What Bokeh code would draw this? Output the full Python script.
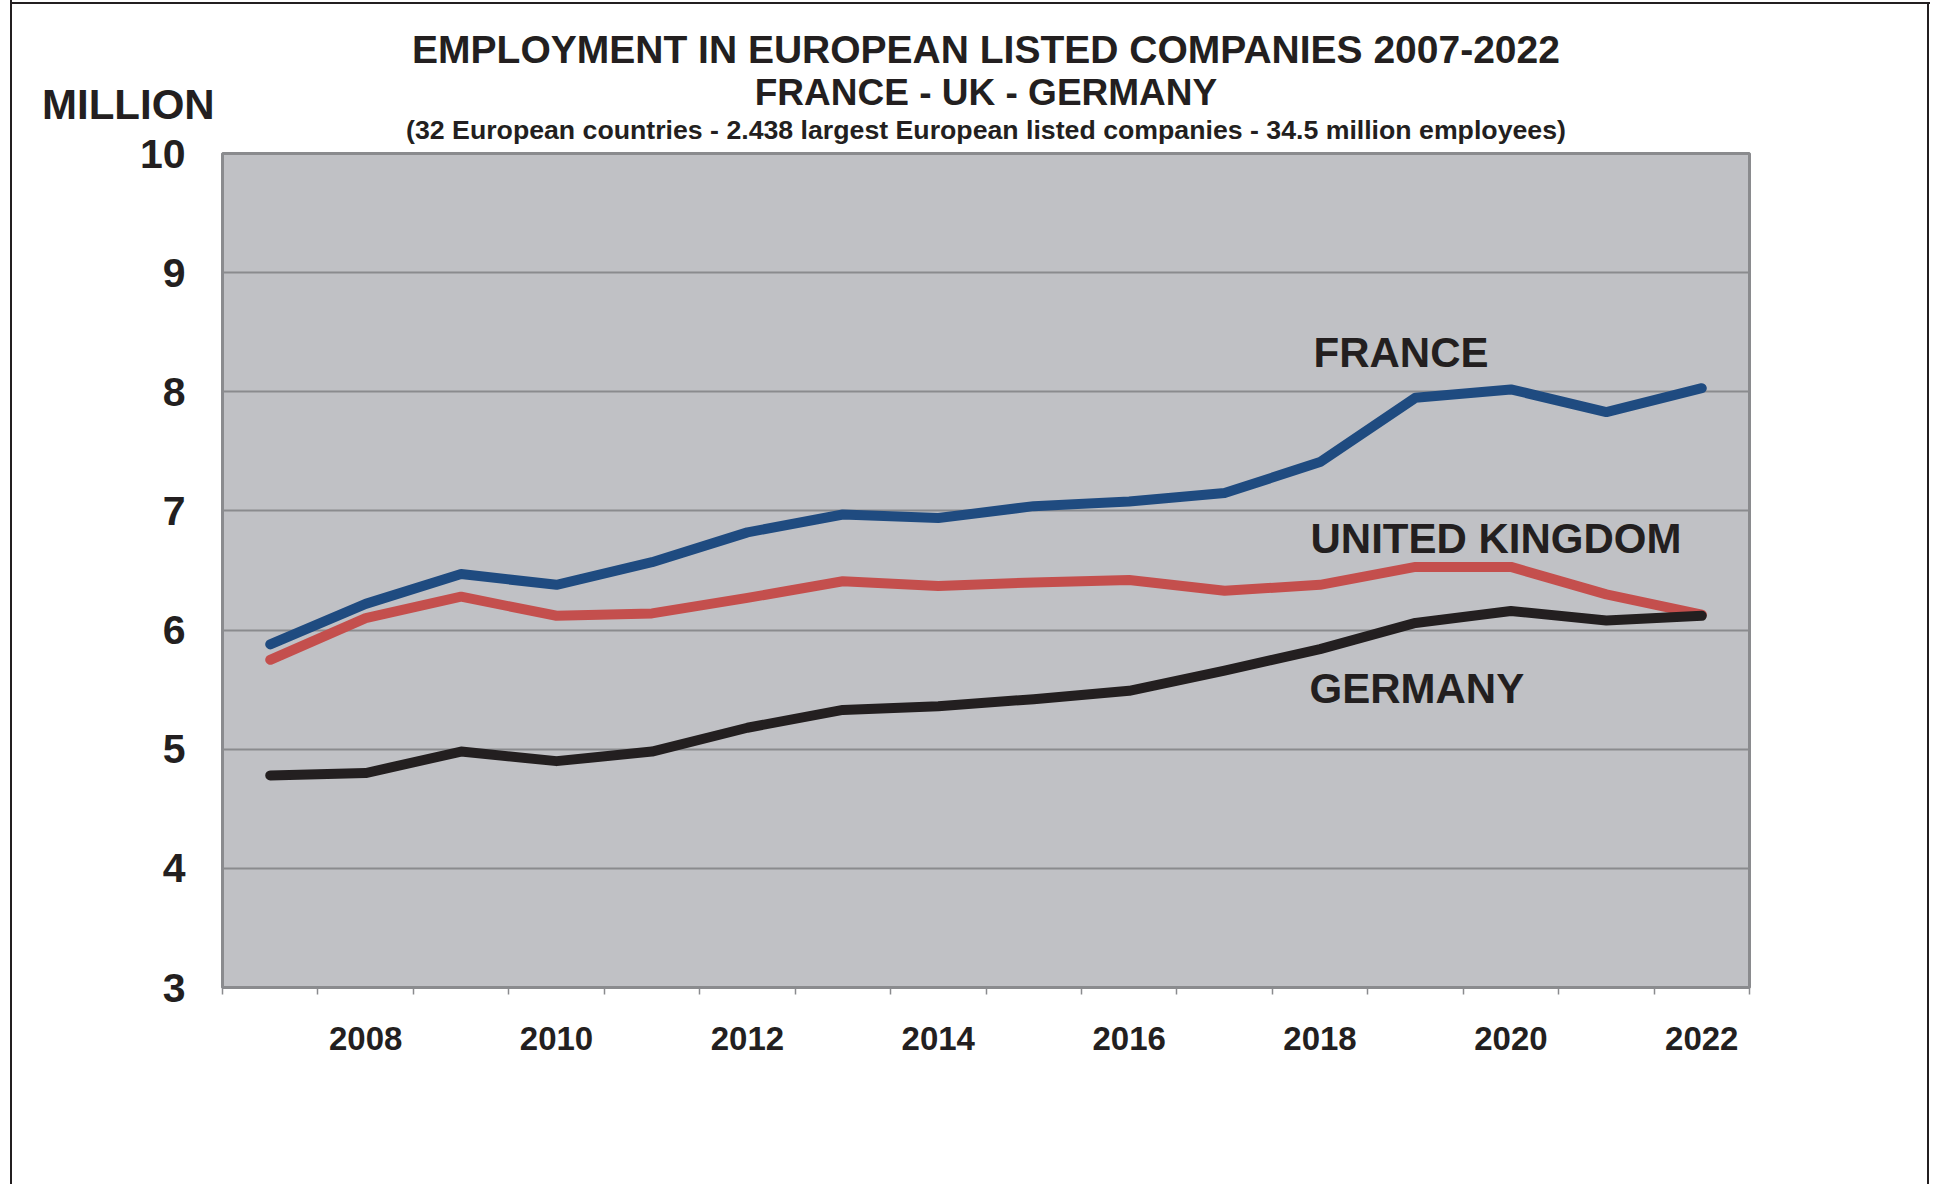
from bokeh.plotting import figure
from bokeh.models import Label, FixedTicker, Range1d, ColumnDataSource
from bokeh.embed import file_html
from bokeh.resources import INLINE

# ---------------- data ----------------
years = [2007, 2008, 2009, 2010, 2011, 2012, 2013, 2014,
         2015, 2016, 2017, 2018, 2019, 2020, 2021, 2022]
france = [5.88, 6.22, 6.47, 6.38, 6.57, 6.82, 6.97, 6.94,
          7.04, 7.08, 7.15, 7.41, 7.95, 8.02, 7.83, 8.03]
united_kingdom = [5.75, 6.10, 6.28, 6.12, 6.14, 6.27, 6.41, 6.37,
                  6.40, 6.42, 6.33, 6.38, 6.53, 6.53, 6.30, 6.13]
germany = [4.78, 4.80, 4.98, 4.90, 4.98, 5.18, 5.33, 5.36,
           5.42, 5.49, 5.66, 5.84, 6.06, 6.16, 6.08, 6.12]
series_names = ["FRANCE", "UNITED KINGDOM", "GERMANY"]
x_label_years = [2008, 2010, 2012, 2014, 2016, 2018, 2020, 2022]
x_tick_labels = ["2008", "2010", "2012", "2014", "2016", "2018", "2020", "2022"]
y_ticks = [3, 4, 5, 6, 7, 8, 9, 10]
title_lines = [
    "EMPLOYMENT IN EUROPEAN LISTED COMPANIES 2007-2022",
    "FRANCE - UK - GERMANY",
    "(32 European countries - 2.438 largest European listed companies - 34.5 million employees)",
]
unit_label = "MILLION"

# ---------------- layout ----------------
W, H = 1930, 1184
FL, FR, FT, FB = 222, 1749, 153, 987       # plot frame in canvas px
X0, X1 = years[0] - 0.5, years[-1] + 0.5
Y0, Y1 = y_ticks[0], y_ticks[-1]

def dx(px):
    return X0 + (px - FL) / (FR - FL) * (X1 - X0)

def dy(py):
    return Y1 - (py - FT) / (FB - FT) * (Y1 - Y0)

FONT = "Liberation Sans"
TXT = "#231f20"
GRID = "#8a8b8e"

p = figure(width=W, height=H, output_backend="svg", toolbar_location=None,
           x_range=Range1d(X0, X1), y_range=Range1d(Y0, Y1),
           min_border_left=FL, min_border_right=W - FR,
           min_border_top=FT, min_border_bottom=H - FB)

p.background_fill_color = "#c0c1c5"
p.border_fill_color = None
p.outline_line_color = GRID
p.outline_line_width = 3
# outer page frame (left, top, right), drawn under the transparent canvas border
p.styles = {
    "box-shadow": ("inset 10px 0 0 0 #ffffff, inset 12px 0 0 0 #231f20, "
                   "inset 0 2px 0 0 #ffffff, inset 0 4px 0 0 #231f20, "
                   "inset -1px 0 0 0 #ffffff, inset -3px 0 0 0 #231f20")
}

# grids
p.xgrid.grid_line_color = None
p.ygrid.grid_line_color = GRID
p.ygrid.grid_line_width = 2

# x axis
xa = p.xaxis[0]
xa.ticker = FixedTicker(ticks=x_label_years,
                        minor_ticks=[X0 + i for i in range(len(years) + 1)])
xa.major_label_overrides = {y: s for y, s in zip(x_label_years, x_tick_labels)}
xa.major_tick_out = 0
xa.major_tick_in = 0
xa.minor_tick_out = 7
xa.minor_tick_in = 0
xa.minor_tick_line_color = GRID
xa.minor_tick_line_width = 1.5
xa.axis_line_color = GRID
xa.axis_line_width = 3
xa.major_label_text_font = FONT
xa.major_label_text_font_style = "bold"
xa.major_label_text_font_size = "33px"
xa.major_label_text_color = TXT
xa.major_label_standoff = 32

# y axis
ya = p.yaxis[0]
ya.ticker = FixedTicker(ticks=y_ticks)
ya.major_tick_out = 0
ya.major_tick_in = 0
ya.minor_tick_line_color = None
ya.axis_line_color = GRID
ya.axis_line_width = 2
ya.major_label_text_font = FONT
ya.major_label_text_font_style = "bold"
ya.major_label_text_font_size = "41px"
ya.major_label_text_color = TXT
ya.major_label_standoff = 37

# lines
src = ColumnDataSource(dict(year=years, fr=france, uk=united_kingdom, de=germany))
for col, color in (("fr", "#1f4b80"), ("uk", "#c44f4d"), ("de", "#231f20")):
    p.line("year", col, source=src, line_color=color, line_width=10,
           line_cap="round", line_join="round")

# titles: labels in canvas units placed in side panels (not clipped to the frame)
def add_canvas_label(text, px, py, size, align, side):
    p.add_layout(Label(x=px, y=py, x_units="canvas", y_units="canvas",
                       text=text, text_font=FONT, text_font_style="bold",
                       text_font_size=size, text_color=TXT, text_align=align,
                       text_baseline="alphabetic"), side)

cx = (FL + FR) / 2
add_canvas_label(title_lines[0], cx, 49.3, "39px", "center", "above")
add_canvas_label(title_lines[1], cx, 91.9, "37px", "center", "above")
add_canvas_label(title_lines[2], cx, 129.0, "26.7px", "center", "above")
add_canvas_label(unit_label, 41.5, 103.6, "42px", "left", "right")

# series labels (data units, inside the frame)
def add_label(text, px, py, size):
    p.add_layout(Label(x=dx(px), y=dy(py), text=text, text_font=FONT,
                       text_font_style="bold", text_font_size=size,
                       text_color=TXT, text_align="left",
                       text_baseline="alphabetic"))

add_label(series_names[0], 1313, 351.7, "42px")
add_label(series_names[1], 1310, 538.0, "42px")
add_label(series_names[2], 1309, 688.0, "42px")

open("out.html", "w").write(file_html(p, INLINE))
